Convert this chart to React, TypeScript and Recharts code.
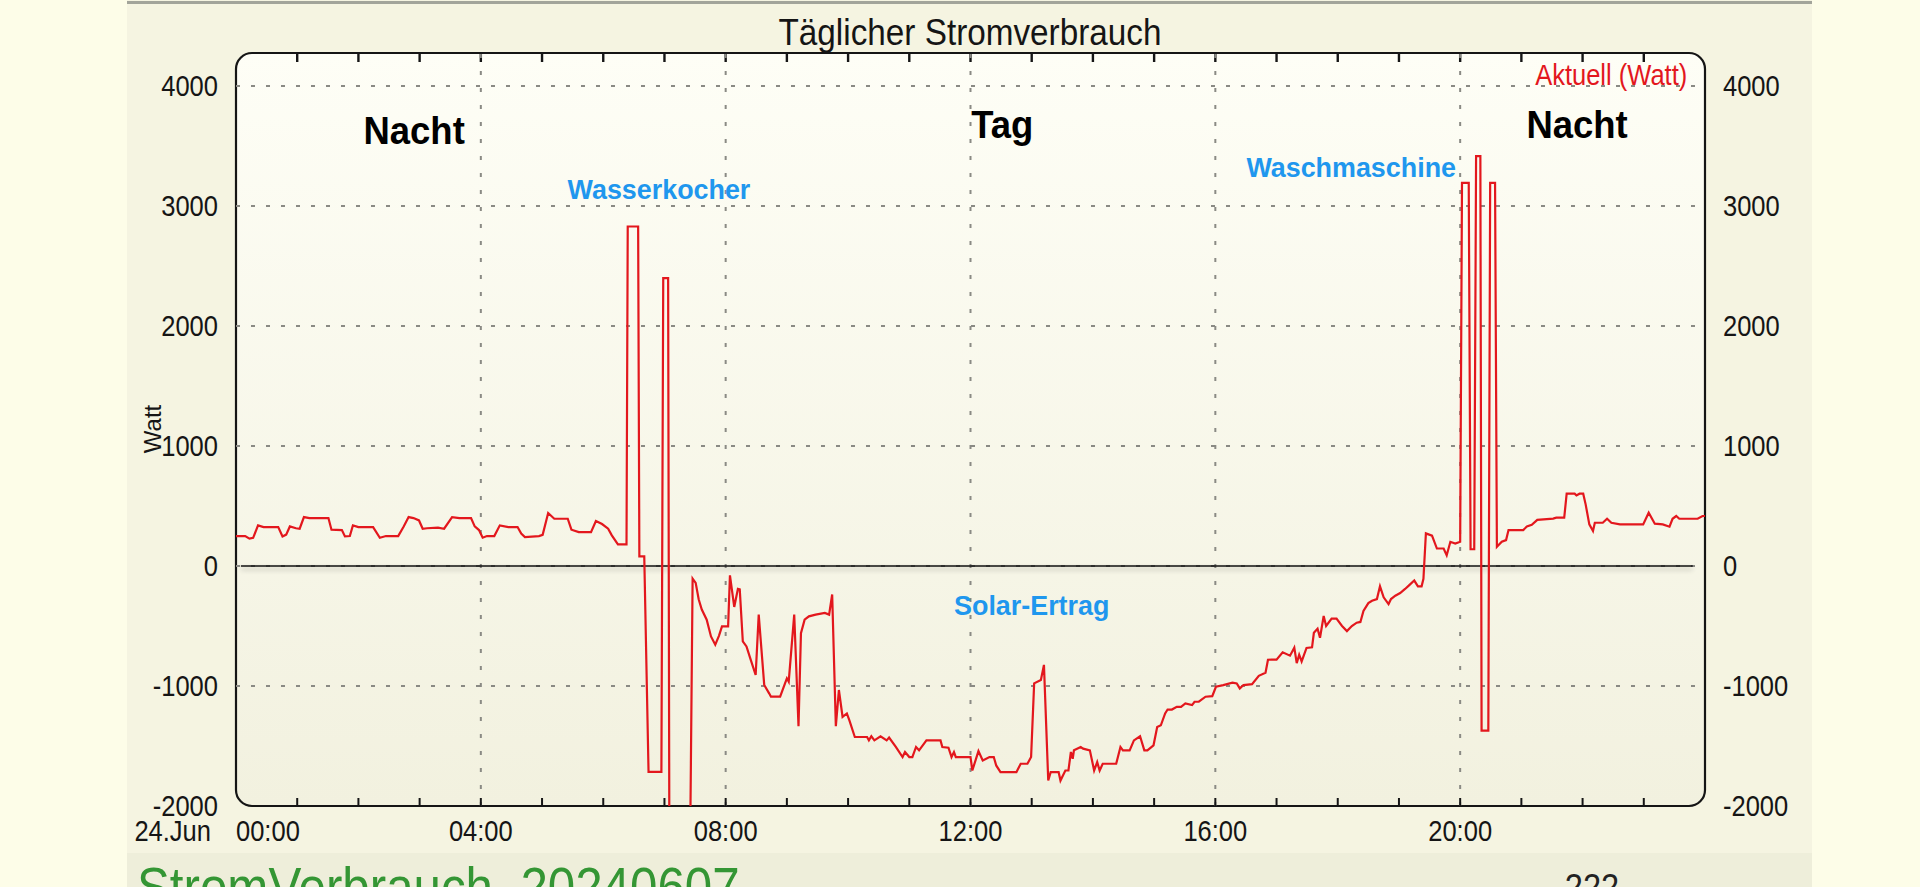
import React from "react";
import {
  LineChart,
  Line,
  XAxis,
  YAxis,
  ReferenceLine,
  ReferenceArea,
  ReferenceDot,
} from "recharts";

// time of day in hours and the power reading (W)
const HOURS = [
  0.0, 0.15, 0.22, 0.28, 0.36, 0.45, 0.69, 0.76, 0.82, 0.88, 0.98, 1.04, 1.11, 1.2, 1.51, 1.56,
  1.73, 1.78, 1.86, 1.91, 2.0, 2.24, 2.35, 2.45, 2.65, 2.74, 2.82, 2.9, 2.99, 3.05, 3.12, 3.3,
  3.4, 3.53, 3.65, 3.84, 3.9, 3.97, 4.03, 4.1, 4.22, 4.31, 4.45, 4.6, 4.66, 4.72, 4.95, 5.01,
  5.1, 5.2, 5.42, 5.48, 5.6, 5.8, 5.88, 5.98, 6.08, 6.14, 6.24, 6.38,
  6.4, 6.57, 6.59, 6.67, 6.74, 6.95, 6.98, 7.06, 7.08, 7.42, 7.46,
  7.51, 7.56, 7.61, 7.69, 7.76, 7.83, 7.89, 7.94, 8.04, 8.07, 8.14, 8.2, 8.23, 8.28, 8.34, 8.41,
  8.49, 8.54, 8.63, 8.71, 8.74, 8.89, 9.0, 9.03, 9.12, 9.19, 9.23, 9.29, 9.36, 9.47, 9.62, 9.69,
  9.74, 9.8, 9.85, 9.91, 9.98, 10.02, 10.11, 10.31, 10.34, 10.38, 10.43, 10.53, 10.63, 10.67,
  10.78, 10.89, 10.93, 11.0, 11.05, 11.11, 11.16, 11.28, 11.51, 11.54, 11.64, 11.69, 11.73, 11.76,
  12.0, 12.03, 12.13, 12.2, 12.31, 12.38, 12.42, 12.49, 12.75, 12.82, 12.93, 12.99, 13.04, 13.15,
  13.2, 13.27, 13.31, 13.44, 13.47, 13.55, 13.6, 13.64, 13.67, 13.69, 13.8, 13.84, 13.95, 14.02,
  14.07, 14.11, 14.16, 14.38, 14.45, 14.49, 14.6, 14.67, 14.77, 14.84, 14.89, 14.99, 15.05, 15.11,
  15.18, 15.22, 15.29, 15.37, 15.44, 15.51, 15.62, 15.66, 15.73, 15.84, 15.95, 16.01, 16.13, 16.28,
  16.35, 16.4, 16.46, 16.6, 16.71, 16.82, 16.86, 17.0, 17.1, 17.22, 17.29, 17.33, 17.37, 17.41,
  17.49, 17.58, 17.61, 17.67, 17.71, 17.77, 17.81, 17.9, 17.98, 18.07, 18.15, 18.23, 18.31, 18.37,
  18.42, 18.5, 18.56, 18.64, 18.69, 18.75, 18.83, 18.87, 18.94, 19.02, 19.1, 19.16, 19.25, 19.31,
  19.37, 19.4, 19.44, 19.54, 19.62, 19.73, 19.78, 19.84, 19.92, 20.0,
  20.03, 20.14, 20.17, 20.23, 20.26, 20.33, 20.35, 20.46, 20.49, 20.57, 20.6,
  20.68, 20.75, 20.79, 21.03, 21.09, 21.17, 21.26, 21.52, 21.57, 21.7, 21.74, 21.87, 21.9, 21.95,
  22.01, 22.05, 22.11, 22.17, 22.2, 22.33, 22.4, 22.47, 22.61, 22.99, 23.08, 23.18, 23.31, 23.42,
  23.47, 23.53, 23.58, 23.88, 23.96, 24.0,
];

const WATTS = [
  250, 250, 228, 235, 339, 325, 325, 247, 262, 330, 315, 311, 408, 400, 400, 303,
  300, 247, 250, 339, 325, 325, 236, 250, 250, 330, 408, 400, 380, 311, 315, 320,
  311, 408, 400, 400, 330, 300, 236, 250, 250, 339, 325, 325, 270, 242, 250, 260,
  442, 394, 394, 303, 283, 283, 375, 350, 311, 256, 180, 180,
  2830, 2830, 80, 80, -1715, -1715, 2400, 2400, -2300, -2300, -105,
  -140, -279, -363, -447, -587, -656, -582, -503, -503, -78, -341, -190, -195, -628, -670, -782,
  -908, -405, -991, -1061, -1089, -1089, -936, -964, -405, -1335, -559, -447, -419, -405, -391, -405,
  -237, -1335, -1033, -1257, -1229, -1285, -1425, -1425, -1453, -1419, -1453, -1419, -1453, -1430,
  -1508, -1592, -1550, -1592, -1592, -1508, -1536, -1453, -1453, -1508, -1514, -1592, -1550, -1592,
  -1592, -1704, -1542, -1620, -1592, -1592, -1662, -1718, -1718, -1648, -1648, -1592, -978, -950,
  -824, -1788, -1718, -1718, -1788, -1704, -1704, -1550, -1606, -1536, -1508, -1522, -1536, -1704,
  -1634, -1704, -1648, -1648, -1508, -1536, -1536, -1453, -1419, -1536, -1536, -1494, -1341, -1327,
  -1229, -1196, -1196, -1173, -1173, -1145, -1159, -1131, -1131, -1089, -1084, -1006, -992, -972,
  -978, -1020, -992, -985, -915, -890, -781, -780, -719, -747, -680, -809, -739, -795,
  -683, -677, -556, -522, -598, -416, -500, -438, -438, -500, -542, -500, -472, -466,
  -374, -309, -289, -275, -169, -261, -317, -275, -247, -225, -191, -163, -121, -169,
  -169, -107, 272, 253, 146, 146, 90, 202, 188, 202,
  3194, 3194, 140, 140, 3417, 3417, -1371, -1371, 3194, 3194, 160,
  202, 216, 300, 300, 329, 343, 385, 395, 403, 403, 603, 603, 589, 603,
  603, 514, 347, 292, 361, 361, 394, 361, 347, 347, 444, 353, 347, 328,
  394, 417, 394, 394, 417, 417,
];

const HOUR_TICKS = [0, 1, 2, 3, 4, 5, 6, 7, 8, 9, 10, 11, 12, 13, 14, 15, 16, 17, 18, 19, 20, 21, 22, 23];
const Y_TICKS = [-2000, -1000, 0, 1000, 2000, 3000, 4000];
const GRID_Y = [-1000, 0, 1000, 2000, 3000, 4000];
const GRID_X = [4, 8, 12, 16, 20];
const X_MIN = 0;
const X_MAX = 24;
const Y_MIN = -2000;
const Y_MAX = 4276;

const TITLE = "Täglicher Stromverbrauch";
const DATE_LABEL = "24.Jun";
const SERIES_NAME = "Aktuell (Watt)";
const AXIS_NAME = "Watt";
const FOOTER_NAME = "StromVerbrauch_20240607";
const FOOTER_COUNT = "222";

const NOTES = [
  { text: "Nacht", h: 2.91, w: 3630, kind: "phase" },
  { text: "Tag", h: 12.52, w: 3684, kind: "phase" },
  { text: "Nacht", h: 21.91, w: 3684, kind: "phase" },
  { text: "Wasserkocher", h: 6.91, w: 3141, kind: "device" },
  { text: "Waschmaschine", h: 18.22, w: 3325, kind: "device" },
  { text: "Solar-Ertrag", h: 13.0, w: -326, kind: "device" },
  { text: SERIES_NAME, h: 23.71, w: 4094, kind: "legend" },
];

const W = 1920;
const H = 887;
const MARGIN = { top: 53, right: 135, bottom: 41, left: 156 };

const FONT = '"Liberation Sans", Arial, Helvetica, sans-serif';
const INK = "#151515";
const RED = "#e3171d";
const BLUE = "#1f97ee";

const data = HOURS.map((h, i) => ({ h, w: WATTS[i] }));

const hh = (v: number) => `${String(v).padStart(2, "0")}:00`;

function SqText({ x, y, sx = 0.88, anchor = "middle", size = 29, weight = 400, color = INK, children }: any) {
  return (
    <text
      transform={`translate(${x} ${y}) scale(${sx} 1)`}
      x={0}
      y={0}
      dy="0.355em"
      textAnchor={anchor}
      fontSize={size}
      fontWeight={weight}
      fontFamily={FONT}
      fill={color}
    >
      {children}
    </text>
  );
}

// bottom axis tick: inward tick mark on the bottom border, labels every 4 h
function HourTick({ x, y, payload }: any) {
  const v = payload.value;
  return (
    <g>
      {v > 0 && <line x1={x} x2={x} y1={y} y2={y - 8} stroke={INK} strokeWidth={2} />}
      {v % 4 === 0 && (
        <SqText x={x} y={y + 25} anchor={v === 0 ? "start" : "middle"}>
          {hh(v)}
        </SqText>
      )}
      {v === 0 && (
        <SqText x={x - 25} y={y + 25} anchor="end">
          {DATE_LABEL}
        </SqText>
      )}
    </g>
  );
}

function LeftTick({ x, y, payload }: any) {
  return (
    <SqText x={x - 18} y={y} anchor="end">
      {payload.value}
    </SqText>
  );
}

function RightTick({ x, y, payload }: any) {
  return (
    <SqText x={x + 18} y={y} anchor="start">
      {payload.value}
    </SqText>
  );
}

// rounded plot frame with the inward hour ticks along its top edge
function Frame(p: any) {
  const step = p.width / (X_MAX - X_MIN);
  return (
    <g>
      <rect
        x={p.x}
        y={p.y}
        width={p.width}
        height={p.height}
        rx={16}
        ry={16}
        fill="none"
        stroke={INK}
        strokeWidth={2.2}
      />
      {HOUR_TICKS.filter((v) => v > 0).map((v) => (
        <line
          key={v}
          x1={p.x + (v - X_MIN) * step}
          x2={p.x + (v - X_MIN) * step}
          y1={p.y}
          y2={p.y + 9}
          stroke={INK}
          strokeWidth={2.4}
        />
      ))}
    </g>
  );
}

const noteLabel = (n: any) => (p: any) => {
  const vb = p.viewBox || {};
  const cx = (vb.x || 0) + (vb.width || 0) / 2;
  const cy = (vb.y || 0) + (vb.height || 0) / 2;
  if (n.kind === "phase") {
    return (
      <SqText x={cx} y={cy} sx={0.96} size={38} weight={700} color="#000">
        {n.text}
      </SqText>
    );
  }
  if (n.kind === "legend") {
    return (
      <SqText x={cx} y={cy} anchor="end" size={29} color={RED}>
        {n.text}
      </SqText>
    );
  }
  return (
    <SqText x={cx} y={cy} sx={0.96} size={28} weight={700} color={BLUE}>
      {n.text}
    </SqText>
  );
};

export default function App() {
  return (
    <div
      style={{
        position: "absolute",
        left: 0,
        top: 0,
        width: W,
        height: H,
        overflow: "hidden",
        background: "#fdfde8",
      }}
    >
      <div style={{ position: "absolute", left: 127, top: 0, width: 1685, height: H, background: "#f5f4e1" }} />
      <div style={{ position: "absolute", left: 127, top: 1, width: 1685, height: 3, background: "#a2a49a" }} />
      <div style={{ position: "absolute", left: 127, top: 853, width: 1685, height: 34, background: "#eeeeda" }} />

      <div style={{ position: "absolute", left: 0, top: 0 }}>
        <LineChart width={W} height={H} data={data} margin={MARGIN}>
          <defs>
            <linearGradient id="plotBg" x1="0" y1="0" x2="0" y2="1">
              <stop offset="0%" stopColor="#fefef6" />
              <stop offset="100%" stopColor="#f2f1df" />
            </linearGradient>
            <filter id="zeroShadow" filterUnits="userSpaceOnUse" x="0" y="0" width="1920" height="887">
              <feGaussianBlur in="SourceAlpha" stdDeviation="2.5" />
              <feOffset dy="3" result="blur" />
              <feComponentTransfer in="blur" result="soft">
                <feFuncA type="linear" slope="0.3" />
              </feComponentTransfer>
              <feMerge>
                <feMergeNode in="soft" />
                <feMergeNode in="SourceGraphic" />
              </feMerge>
            </filter>
          </defs>

          <XAxis
            dataKey="h"
            type="number"
            domain={[X_MIN, X_MAX]}
            allowDataOverflow
            ticks={HOUR_TICKS}
            interval={0}
            height={40}
            tickSize={0}
            tickMargin={0}
            axisLine={false}
            tickLine={false}
            tick={HourTick}
          />
          <YAxis
            type="number"
            domain={[Y_MIN, Y_MAX]}
            allowDataOverflow
            ticks={Y_TICKS}
            interval={0}
            width={80}
            tickSize={0}
            tickMargin={0}
            axisLine={false}
            tickLine={false}
            tick={LeftTick}
          />
          <YAxis
            yAxisId="right"
            orientation="right"
            type="number"
            domain={[Y_MIN, Y_MAX]}
            allowDataOverflow
            ticks={Y_TICKS}
            interval={0}
            width={80}
            tickSize={0}
            tickMargin={0}
            axisLine={false}
            tickLine={false}
            tick={RightTick}
          />

          <ReferenceArea
            x1={X_MIN}
            x2={X_MAX}
            y1={Y_MIN}
            y2={Y_MAX}
            ifOverflow="visible"
            shape={(p: any) => (
              <rect x={p.x} y={p.y} width={p.width} height={p.height} rx={16} ry={16} fill="url(#plotBg)" />
            )}
          />

          {GRID_Y.map((v) => (
            <ReferenceLine
              key={`gy${v}`}
              y={v}
              stroke="#8a8a84"
              strokeWidth={2}
              strokeDasharray="4 11"
              ifOverflow="visible"
            />
          ))}
          {GRID_X.map((v) => (
            <ReferenceLine
              key={`gx${v}`}
              x={v}
              stroke="#8a8a84"
              strokeWidth={2}
              strokeDasharray="4 13"
              ifOverflow="visible"
            />
          ))}

          <ReferenceLine
            segment={[
              { x: 0.08, y: 0 },
              { x: 23.8, y: 0 },
            ]}
            ifOverflow="visible"
            shape={(p: any) => (
              <line
                x1={p.x1}
                y1={p.y1}
                x2={p.x2}
                y2={p.y2}
                stroke="#111"
                strokeWidth={1.4}
                filter="url(#zeroShadow)"
              />
            )}
          />

          <Line
            type="linear"
            dataKey="w"
            name={SERIES_NAME}
            stroke={RED}
            strokeWidth={2.2}
            dot={false}
            activeDot={false}
            isAnimationActive={false}
          />

          <ReferenceArea
            x1={X_MIN}
            x2={X_MAX}
            y1={Y_MIN}
            y2={Y_MAX}
            ifOverflow="visible"
            shape={(p: any) => <Frame {...p} />}
          />

          {NOTES.map((n, i) => (
            <ReferenceDot
              key={`n${i}`}
              x={n.h}
              y={n.w}
              r={1}
              fill="none"
              stroke="none"
              ifOverflow="visible"
              label={noteLabel(n)}
            />
          ))}
        </LineChart>
      </div>

      <svg width={W} height={H} style={{ position: "absolute", left: 0, top: 0, pointerEvents: "none" }}>
        <SqText x={970} y={32} sx={0.9} size={37}>
          {TITLE}
        </SqText>
        <text
          transform="translate(152 429) rotate(-90)"
          textAnchor="middle"
          dy="0.355em"
          fontSize={24}
          fontFamily={FONT}
          fill={INK}
        >
          {AXIS_NAME}
        </text>
        <text transform="translate(137 906) scale(0.88 1)" fontSize={56} fontFamily={FONT} fill="#349634">
          {FOOTER_NAME}
        </text>
        <text
          transform="translate(1592 900) scale(0.88 1)"
          textAnchor="middle"
          fontSize={37}
          fontFamily={FONT}
          fill="#222"
        >
          {FOOTER_COUNT}
        </text>
      </svg>
    </div>
  );
}
